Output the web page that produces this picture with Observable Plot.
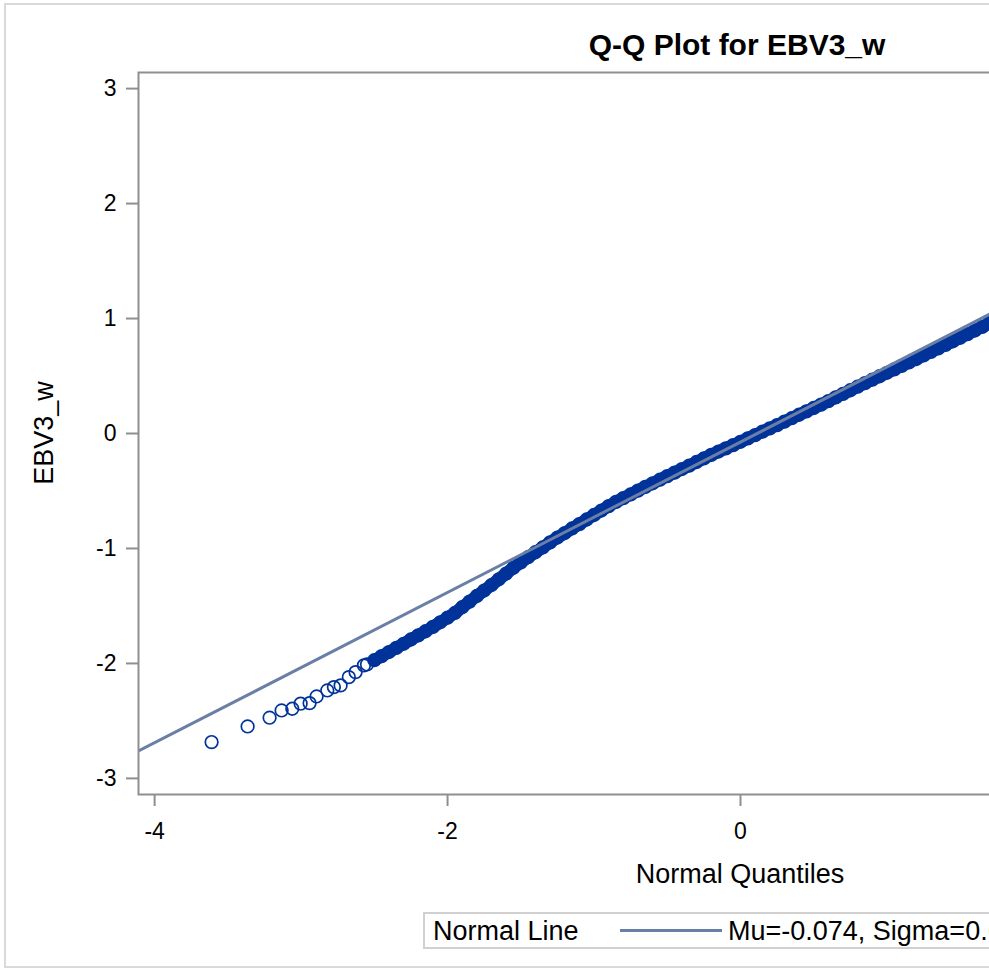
<!DOCTYPE html>
<html><head><meta charset="utf-8">
<script src="https://cdn.jsdelivr.net/npm/d3@7"></script>
<script src="https://cdn.jsdelivr.net/npm/@observablehq/plot@0.6"></script>
<style>
html,body{margin:0;padding:0;overflow:hidden;background:#fff;width:989px;height:970px;}
body{position:relative;font-family:"Liberation Sans",Arial,sans-serif;}
#border{position:absolute;left:4px;top:3px;width:1600px;height:965px;box-sizing:border-box;border:2px solid #d9d9d9;}
#title{position:absolute;left:0;top:30px;width:1474px;text-align:center;font-weight:bold;font-size:30px;line-height:30px;color:#000;white-space:nowrap;}
#chart{position:absolute;left:0;top:0;width:1480px;height:890px;}
#chart svg{max-width:none !important;width:1480px;height:890px;}
#legend{position:absolute;left:423px;top:912px;width:660px;height:37px;box-sizing:border-box;border:2px solid #d0d0d0;background:#fff;font-size:27px;line-height:27px;color:#000;white-space:nowrap;}
#legend span{position:absolute;}
</style></head>
<body>
<div id="border"></div>
<div id="chart"></div>
<div id="title"></div>
<div id="legend"></div>
<script>
// ---- data ----
const titleText = "Q-Q Plot for EBV3_w";
const xLabel = "Normal Quantiles";
const yLabel = "EBV3_w";
const legendTitle = "Normal Line";
const mu = -0.074;
const sigma = 0.654;
const legendValue = "Mu=-0.074, Sigma=0.654";
const xTicks = [-4, -2, 0];
const yTicks = [-3, -2, -1, 0, 1, 2, 3];
const xDomain = [-4.11, 4.11];
const yDomain = [-3.14, 3.14];

// sparse lower-tail observations (normal quantile, EBV3_w)
const tailQ = [-3.611,-3.365,-3.215,-3.133,-3.060,-3.003,-2.942,-2.894,-2.821,-2.776,-2.730,-2.674,-2.628,-2.571];
const tailV = [-2.684,-2.548,-2.472,-2.409,-2.394,-2.350,-2.345,-2.287,-2.235,-2.206,-2.191,-2.119,-2.076,-2.017];

// dense band of observations (normal quantile, EBV3_w)
const bandQ = [-2.55,-2.50,-2.45,-2.40,-2.35,-2.30,-2.25,-2.20,-2.15,-2.10,-2.05,-2.00,-1.95,-1.90,-1.85,-1.80,-1.75,-1.70,-1.65,-1.60,-1.55,-1.50,-1.45,-1.40,-1.35,-1.30,-1.25,-1.20,-1.15,-1.10,-1.05,-1.00,-0.95,-0.90,-0.85,-0.80,-0.75,-0.70,-0.65,-0.60,-0.55,-0.50,-0.45,-0.40,-0.35,-0.30,-0.25,-0.20,-0.15,-0.10,-0.05,0.00,0.05,0.10,0.15,0.20,0.25,0.30,0.35,0.40,0.45,0.50,0.55,0.60,0.65,0.70,0.75,0.80,0.85,0.90,0.95,1.00,1.05,1.10,1.15,1.20,1.25,1.30,1.35,1.40,1.45,1.50,1.55,1.60,1.65,1.70,1.75];
const bandV = [-2.009,-1.972,-1.936,-1.901,-1.865,-1.829,-1.792,-1.756,-1.720,-1.682,-1.642,-1.602,-1.561,-1.511,-1.462,-1.413,-1.366,-1.318,-1.268,-1.218,-1.168,-1.121,-1.076,-1.033,-0.991,-0.947,-0.905,-0.866,-0.826,-0.788,-0.748,-0.709,-0.670,-0.632,-0.595,-0.562,-0.530,-0.497,-0.464,-0.433,-0.402,-0.371,-0.340,-0.309,-0.279,-0.248,-0.217,-0.186,-0.157,-0.129,-0.101,-0.072,-0.042,-0.014,0.016,0.045,0.073,0.103,0.133,0.163,0.192,0.222,0.251,0.282,0.314,0.345,0.376,0.407,0.438,0.468,0.498,0.528,0.558,0.588,0.618,0.648,0.679,0.710,0.740,0.771,0.802,0.833,0.864,0.896,0.927,0.960,0.992];

// ---- build tables ----
const tail = tailQ.map((q, i) => ({q, v: tailV[i]}));
const band = bandQ.map((q, i) => ({q, v: bandV[i]}));
const points = tail.concat(band);
const fitLine = xDomain.map(q => ({q, v: mu + sigma * q}));

const blue = "#003399";
const lineColor = "#6a7fa6";
const axisGray = "#8f8f8f";
const fmt = d => String(d);

const svg = Plot.plot({
  width: 1480,
  height: 890,
  marginLeft: 138,
  marginRight: 138,
  marginTop: 72,
  marginBottom: 96,
  style: {fontFamily: "'Liberation Sans', Arial, sans-serif", fontSize: "23px", color: "#000", background: "transparent", maxWidth: "none"},
  x: {domain: xDomain},
  y: {domain: yDomain},
  marks: [
    Plot.line(band.filter(d => d.q >= -2.5), {x: "q", y: "v", stroke: blue, strokeWidth: 12.5, strokeLinecap: "round", strokeLinejoin: "round"}),
    Plot.dot(points, {x: "q", y: "v", r: 6.3, stroke: blue, strokeWidth: 1.7, fill: "none"}),
    Plot.line(fitLine, {x: "q", y: "v", stroke: lineColor, strokeWidth: 3, clip: true}),
    Plot.frame({stroke: axisGray, strokeWidth: 2}),
    Plot.axisX({ticks: xTicks, tickFormat: fmt, tickSize: 12, tickPadding: 16, label: null, stroke: axisGray, strokeWidth: 2}),
    Plot.axisY({ticks: yTicks, tickFormat: fmt, tickSize: 12, tickPadding: 10, label: null, stroke: axisGray, strokeWidth: 2})
  ]
});
svg.style.maxWidth = "none";
document.getElementById("chart").appendChild(svg);

const s = d3.select(svg);
s.selectAll('g[aria-label$="-axis tick"]').attr("stroke", axisGray).attr("stroke-width", 2);
s.append("text")
  .attr("x", 740).attr("y", 883)
  .attr("text-anchor", "middle")
  .attr("font-size", 27).attr("fill", "#000")
  .text(xLabel);
s.append("text")
  .attr("transform", "translate(53,433) rotate(-90)")
  .attr("text-anchor", "middle")
  .attr("font-size", 27).attr("fill", "#000")
  .text(yLabel);

document.getElementById("title").textContent = titleText;

const lg = d3.select("#legend");
lg.append("span").style("left", "8px").style("top", "4px").text(legendTitle);
lg.append("span").style("left", "195px").style("top", "15px").style("width", "102px").style("height", "0px")
  .style("border-top", `3px solid ${lineColor}`);
lg.append("span").style("left", "303px").style("top", "4px").text(legendValue);
</script>
</body></html>
